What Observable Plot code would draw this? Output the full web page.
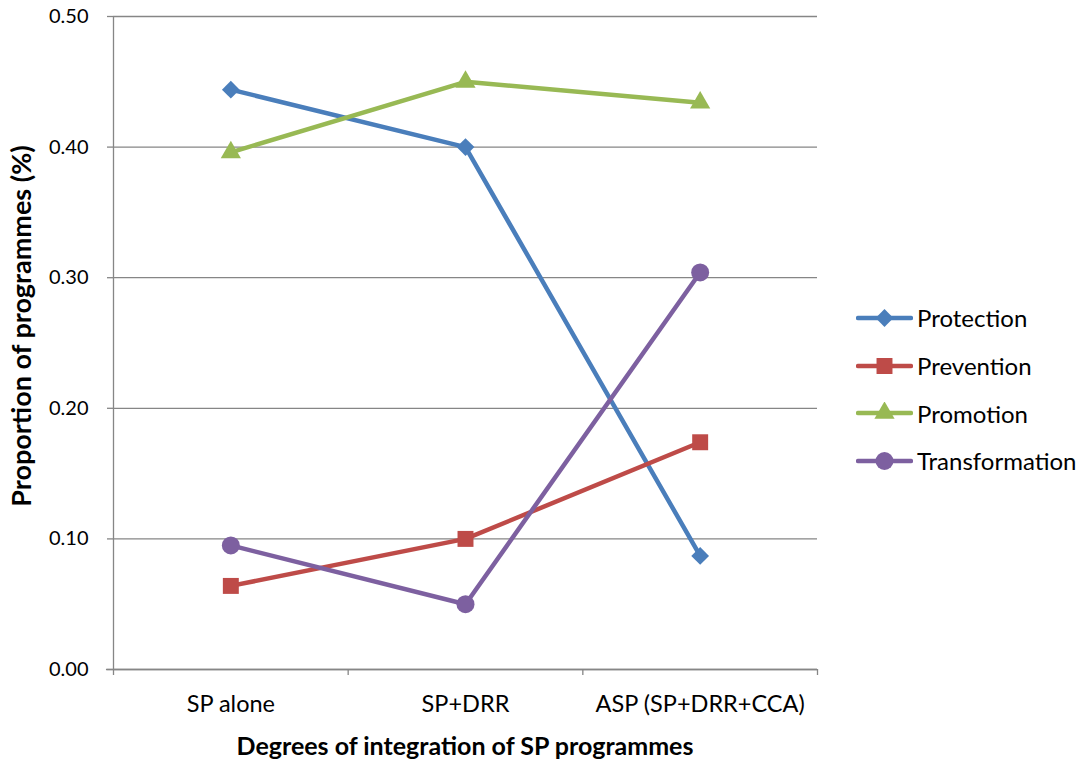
<!DOCTYPE html>
<html>
<head>
<meta charset="utf-8">
<script src="https://cdn.jsdelivr.net/npm/d3@7"></script>
<script src="https://cdn.jsdelivr.net/npm/@observablehq/plot@0.6"></script>
<style>
  html, body { margin: 0; padding: 0; background: #fff; }
  #wrap { position: relative; width: 1085px; height: 763px; font-family: Lato, "Open Sans", sans-serif; color: #000; }
  #chart { position: absolute; left: 0; top: 0; }
  .ytitle { position: absolute; left: 20px; top: 326px; transform: translate(-50%, -50%) rotate(-90deg); white-space: nowrap; font-weight: bold; font-size: 27px; }
  .xtitle { position: absolute; left: 465px; top: 745px; transform: translate(-50%, -50%); white-space: nowrap; font-weight: bold; font-size: 25px; }
  #legend { position: absolute; left: 856px; top: 294px; font-size: 24px; }
  .item { display: flex; align-items: center; height: 47.7px; }
  .item svg { margin-right: 4px; }
</style>
</head>
<body>
<div id="wrap">
  <div id="chart"></div>
  <div class="ytitle">Proportion of programmes (%)</div>
  <div class="xtitle">Degrees of integration of SP programmes</div>
  <div id="legend"></div>
</div>
<script>
const categories = ["SP alone", "SP+DRR", "ASP (SP+DRR+CCA)"];
const seriesNames = ["Protection", "Prevention", "Promotion", "Transformation"];
const protection = [0.444, 0.400, 0.087];
const prevention = [0.064, 0.100, 0.174];
const promotion = [0.396, 0.450, 0.434];
const transformation = [0.095, 0.050, 0.304];
const yTicks = [0, 0.1, 0.2, 0.3, 0.4, 0.5];
const colors = ["#4A7EBB", "#BE4B48", "#98B954", "#7D60A0"];
const symbols = ["diamond2", "square", "triangle", "circle"];
const sizes = [8, 9, 7.5, 9];

const seriesValues = [protection, prevention, promotion, transformation];
const data = [];
seriesNames.forEach((s, si) => {
  seriesValues[si].forEach((v, i) => data.push({series: s, cat: i, value: v}));
});

const marks = [
  Plot.gridY(yTicks, {stroke: "#868686", strokeOpacity: 1, strokeWidth: 1.3, x1: -0.5, x2: 2.5}),
  Plot.axisY(yTicks, {tickFormat: d => d.toFixed(2), tickSize: 6, tickPadding: 19, fontSize: 20, stroke: "#868686", strokeWidth: 1.3, label: null}),
  Plot.ruleX([-0.5], {stroke: "#868686", strokeWidth: 1.3}),
  Plot.ruleY([0], {stroke: "#868686", strokeWidth: 1.3, x1: -0.53, x2: 2.5}),
  Plot.axisX([-0.5, 0.5, 1.5, 2.5], {tickFormat: () => "", tickSize: 6, stroke: "#868686", strokeWidth: 1.3, label: null}),
  Plot.axisX([0, 1, 2], {tickFormat: i => categories[i], tickSize: 0, tickPadding: 26, fontSize: 23.5, label: null})
];
seriesNames.forEach((s, si) => {
  const d = data.filter(r => r.series === s);
  marks.push(Plot.line(d, {x: "cat", y: "value", stroke: colors[si], strokeWidth: 4.5, strokeLinejoin: "round"}));
  marks.push(Plot.dot(d, {x: "cat", y: "value", fill: colors[si], symbol: () => symbols[si], r: sizes[si], stroke: "none"}));
});

const chart = Plot.plot({
  width: 1085,
  height: 763,
  marginLeft: 113,
  marginRight: 268,
  marginTop: 16,
  marginBottom: 94,
  style: {fontFamily: "Lato, 'Open Sans', sans-serif", fontSize: "20px", color: "#000", background: "#fff"},
  x: {type: "linear", domain: [-0.5, 2.5], axis: null},
  y: {domain: [0, 0.5], axis: null},
  symbol: {type: "identity"},
  marks
});
document.getElementById("chart").appendChild(chart);

const legend = document.getElementById("legend");
const symMap = {diamond2: d3.symbolDiamond2, square: d3.symbolSquare, triangle: d3.symbolTriangle, circle: d3.symbolCircle};
seriesNames.forEach((s, si) => {
  const item = document.createElement("div");
  item.className = "item";
  const sym = d3.symbol(symMap[symbols[si]], Math.PI * sizes[si] * sizes[si])();
  item.innerHTML = `<svg width="57" height="22"><line x1="2" x2="55" y1="11" y2="11" stroke="${colors[si]}" stroke-width="4.5" stroke-linecap="round"/><path transform="translate(28.5,11)" d="${sym}" fill="${colors[si]}"/></svg><span>${s}</span>`;
  legend.appendChild(item);
});
</script>
</body>
</html>
